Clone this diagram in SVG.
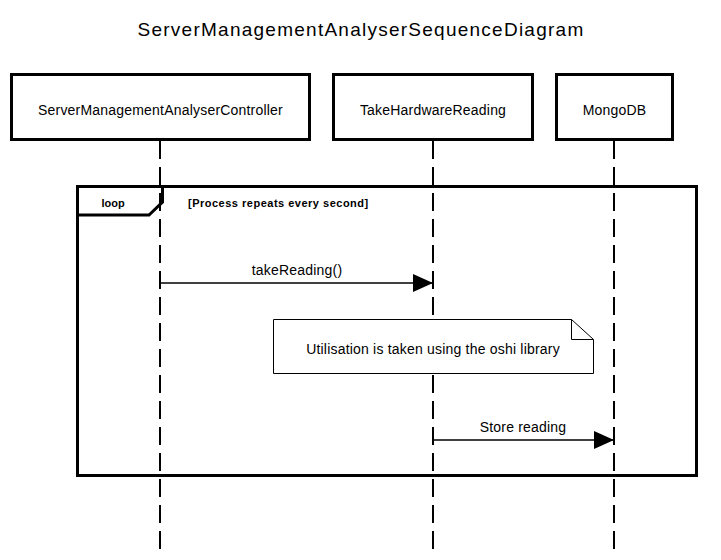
<svg xmlns="http://www.w3.org/2000/svg" width="721" height="560" viewBox="0 0 721 560">
<defs>
<style>
text{font-family:"Liberation Sans",Arial,sans-serif;fill:#000}
.box{fill:#fff;stroke:#000;stroke-width:3}
.life{stroke:#000;stroke-width:2;stroke-dasharray:18 8;fill:none}
.msg{stroke:#000;stroke-width:1.5;fill:none}
.frame{fill:none;stroke:#000;stroke-width:3}
.lbl{font-size:14px;letter-spacing:0.2px;text-anchor:middle}
</style>
<marker id="arrow" markerWidth="20" markerHeight="18" refX="20" refY="9" orient="auto" markerUnits="userSpaceOnUse">
<path d="M0,0 L20,9 L0,18 Z" fill="#000"/>
</marker>
</defs>
<rect width="721" height="560" fill="#fff"/>
<text x="361" y="36" font-size="19" letter-spacing="1.25" text-anchor="middle">ServerManagementAnalyserSequenceDiagram</text>
<g id="lifelines">
<line class="life" x1="160" y1="141" x2="160" y2="553"/>
<line class="life" x1="433" y1="141" x2="433" y2="553"/>
<line class="life" x1="614" y1="141" x2="614" y2="553"/>
</g>
<g id="controller">
<rect class="box" x="11.5" y="74.5" width="298" height="65"/>
<text class="lbl" x="160.5" y="115">ServerManagementAnalyserController</text>
</g>
<g id="takeHardwareReading">
<rect class="box" x="333.5" y="74.5" width="199" height="65"/>
<text class="lbl" x="433" y="115">TakeHardwareReading</text>
</g>
<g id="mongoDB">
<rect class="box" x="556.5" y="74.5" width="116" height="65"/>
<text class="lbl" x="614.5" y="115">MongoDB</text>
</g>
<g id="loop">
<rect class="frame" x="77.5" y="186.5" width="619" height="289"/>
<path class="frame" d="M77.5,215 L149,215 L162.5,202 L162.5,186.5"/>
<text x="113" y="207" font-size="11" font-weight="bold" text-anchor="middle">loop</text>
<text x="188" y="207" font-size="11" font-weight="bold" letter-spacing="0.5">[Process repeats every second]</text>
</g>
<g id="note">
<path d="M273.5,319.5 L571.5,319.5 L593.5,339.5 L593.5,373.5 L273.5,373.5 Z" fill="#fff" stroke="#000" stroke-width="1"/>
<path d="M571.5,319.5 L571.5,339.5 L593.5,339.5" fill="none" stroke="#000" stroke-width="1"/>
<text class="lbl" x="433" y="354">Utilisation is taken using the oshi library</text>
</g>
<g id="connectors">
<line class="msg" x1="160" y1="283" x2="433" y2="283" marker-end="url(#arrow)"/>
<text class="lbl" x="297" y="275">takeReading()</text>
<line class="msg" x1="433" y1="440" x2="614" y2="440" marker-end="url(#arrow)"/>
<text class="lbl" x="523" y="432">Store reading</text>
</g>
</svg>
